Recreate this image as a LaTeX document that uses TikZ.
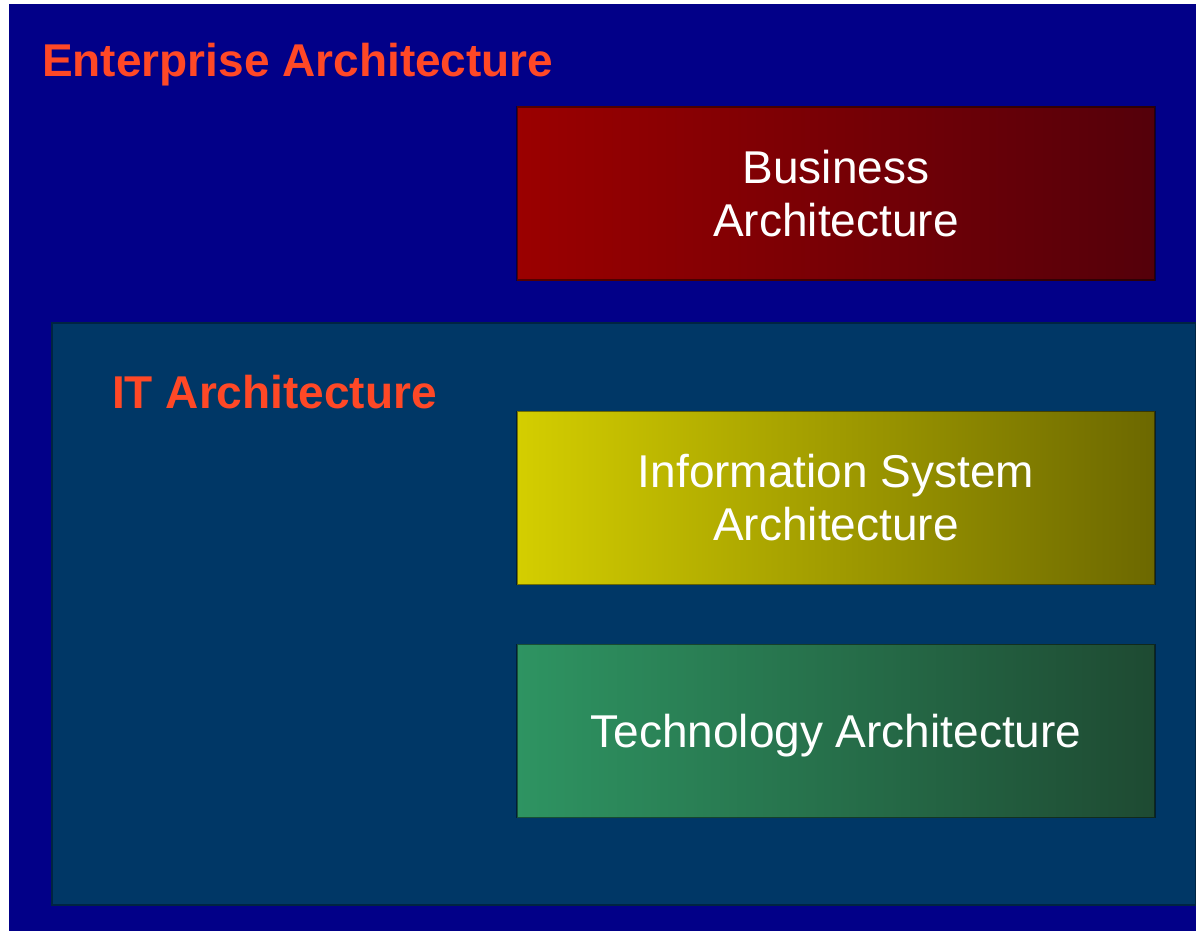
\documentclass[tikz,border=0pt]{standalone}
\usepackage{fontspec}
\setmainfont{Liberation Sans}
\definecolor{navy}{RGB}{2,0,136}
\definecolor{itblue}{RGB}{0,55,102}
\definecolor{headred}{RGB}{255,72,38}
\definecolor{busL}{RGB}{155,0,0}
\definecolor{busR}{RGB}{84,0,10}
\definecolor{infL}{RGB}{212,206,0}
\definecolor{infR}{RGB}{108,104,0}
\definecolor{tecL}{RGB}{46,148,98}
\definecolor{tecR}{RGB}{30,74,50}
\tikzset{
  heading/.style={anchor=base west, inner sep=0pt, text=headred,
    font=\fontsize{46}{53}\selectfont\bfseries},
  archbox/.style={rectangle, inner sep=0pt, minimum width=638pt, minimum height=173pt,
    align=center, text=white, font=\fontsize{46}{53}\selectfont,
    draw=black, draw opacity=0.45, line width=1.5pt},
}
\begin{document}
\begin{tikzpicture}[x=1pt,y=-1pt]
\useasboundingbox (0,0) rectangle (1196,931);
\fill[white] (0,0) rectangle (1196,931);
\fill[navy] (9,4) rectangle (1196,931);
\fill[itblue] (52,323) rectangle (1196,905);
\draw[black!35!itblue, line width=1.5pt] (52,323) rectangle (1196,905);
\node[heading] (ea) at (42,77) {Enterprise Architecture};
\node[heading] (it) at (112,408) {IT Architecture};
\node[archbox, left color=busL, right color=busR] (ba) at (836,193.5) {Business\\Architecture};
\node[archbox, left color=infL, right color=infR] (isa) at (836,498) {Information System\\Architecture};
\node[archbox, left color=tecL, right color=tecR, text depth=0pt] (ta) at (836,731) {Technology Architecture};
\end{tikzpicture}
\end{document}
